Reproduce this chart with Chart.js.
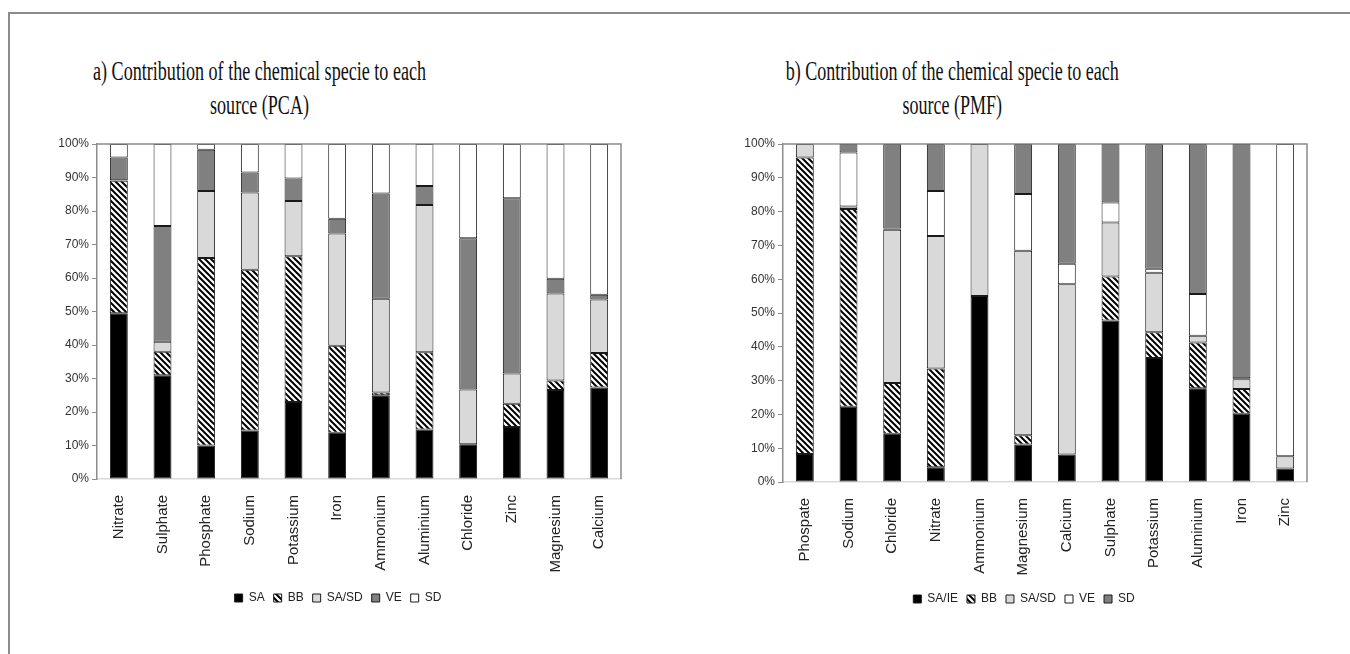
<!DOCTYPE html>
<html lang="en">
<head>
<meta charset="UTF-8">
<title>Contribution of the chemical specie to each source</title>
<script src="https://cdn.jsdelivr.net/npm/chart.js"></script>
<style>
  * { margin:0; padding:0; box-sizing:border-box; }
  body { width:1350px; height:654px; overflow:hidden; position:relative; background:#fff; font-family:'Liberation Sans', sans-serif; }
  .frame { position:absolute; left:8px; top:12px; width:1400px; height:700px; border-top:2px solid #8c8c8c; border-left:2px solid #8c8c8c; }
  .title { position:absolute; top:54px; font-family:'Liberation Serif', serif; font-size:27px; line-height:34px; text-align:center; white-space:nowrap; color:#111; transform-origin:center top; }
  canvas { position:absolute; top:0; }
</style>
</head>
<body>
<div class="frame"></div>
<div class="title" id="t1" data-cx="260">a) Contribution of the chemical specie to each<br>source (PCA)</div>
<div class="title" id="t2" data-cx="952">b) Contribution of the chemical specie to each<br>source (PMF)</div>
<canvas id="pca" width="680" height="654" style="left:0"></canvas>
<canvas id="pmf" width="670" height="654" style="left:680px"></canvas>

<script>
// ---- data (percent of each species per source) ----
const yTicks = [0, 10, 20, 30, 40, 50, 60, 70, 80, 90, 100];

const pcaCategories = ['Nitrate', 'Sulphate', 'Phosphate', 'Sodium', 'Potassium', 'Iron', 'Ammonium', 'Aluminium', 'Chloride', 'Zinc', 'Magnesium', 'Calcium'];
const pcaSeries = ['SA', 'BB', 'SA/SD', 'VE', 'SD'];
const pcaSA   = [49.5, 31.0, 10.0, 14.5, 23.0, 13.8, 25.0, 14.8, 10.4, 15.5, 26.6, 27.3];
const pcaBB   = [39.5,  7.0, 56.0, 48.0, 43.5, 26.0,  0.8, 23.0,  0.0,  7.0,  2.8, 10.3];
const pcaSASD = [ 0.2,  3.0, 20.0, 23.0, 16.5, 33.5, 28.0, 44.0, 16.3,  9.0, 26.0, 16.0];
const pcaVE   = [ 6.8, 34.5, 12.3,  6.0,  6.7,  4.4, 31.4,  5.7, 45.2, 52.3,  4.4,  1.4];
const pcaSD   = [ 4.0, 24.5,  1.7,  8.5, 10.3, 22.3, 14.8, 12.5, 28.1, 16.2, 40.2, 45.0];

const pmfCategories = ['Phospate', 'Sodium', 'Chloride', 'Nitrate', 'Ammonium', 'Magnesium', 'Calcium', 'Sulphate', 'Potassium', 'Aluminium', 'Iron', 'Zinc'];
const pmfSeries = ['SA/IE', 'BB', 'SA/SD', 'VE', 'SD'];
const pmfSAIE = [ 8.3, 22.3, 14.3,  4.4, 55.0, 11.1,  8.1, 47.8, 36.7, 27.7, 20.2,  4.0];
const pmfBB   = [87.7, 58.5, 15.0, 29.2,  0.0,  2.7,  0.0, 13.0,  7.6, 13.6,  7.3,  0.0];
const pmfSASD = [ 4.0,  0.7, 45.3, 39.2, 45.0, 54.6, 50.4, 16.0, 17.6,  2.0,  2.9,  3.6];
const pmfVE   = [ 0.0, 16.0,  0.4, 13.3,  0.0, 16.8,  6.1,  5.9,  1.2, 12.3,  0.3, 92.4];
const pmfSD   = [ 0.0,  2.5, 25.0, 13.9,  0.0, 14.8, 35.4, 17.3, 36.9, 44.4, 69.3,  0.0];

// ---- helpers ----
function hatch(ctx) {
  const tile = document.createElement('canvas');
  tile.width = 6; tile.height = 6;
  const g = tile.getContext('2d');
  g.fillStyle = '#fff'; g.fillRect(0, 0, 6, 6);
  g.strokeStyle = '#000'; g.lineWidth = 2;
  g.beginPath();
  g.moveTo(-3, -3); g.lineTo(9, 9);
  g.moveTo(-3, 3); g.lineTo(3, 9);
  g.moveTo(3, -3); g.lineTo(9, 3);
  g.stroke();
  return ctx.createPattern(tile, 'repeat');
}

// top + right edges of the plot area
const plotFrame = {
  id: 'plotFrame',
  afterDraw(chart) {
    const { ctx, chartArea: a } = chart;
    ctx.save();
    ctx.strokeStyle = '#8c8c8c'; ctx.lineWidth = 1.5;
    ctx.beginPath();
    ctx.moveTo(a.left, a.top); ctx.lineTo(a.right, a.top); ctx.lineTo(a.right, a.bottom);
    ctx.stroke();
    ctx.restore();
  }
};

const narrow = "'Liberation Sans Narrow', 'Liberation Sans', sans-serif";

function makeChart(id, categories, names, values, colors, pad, xHeight) {
  const canvas = document.getElementById(id);
  const ctx = canvas.getContext('2d');
  const pattern = hatch(ctx);
  const datasets = names.map((n, i) => ({
    label: n,
    data: values[i],
    backgroundColor: colors[i] === 'hatch' ? pattern : colors[i],
    borderColor: '#1a1a1a',
    borderWidth: 1,
    borderSkipped: false,
    barPercentage: 0.41,
    categoryPercentage: 1
  }));
  return new Chart(ctx, {
    type: 'bar',
    data: { labels: categories, datasets },
    plugins: [plotFrame],
    options: {
      responsive: false,
      animation: false,
      layout: { padding: pad },
      plugins: {
        title: { display: false },
        tooltip: { enabled: false },
        legend: {
          position: 'bottom',
          labels: { boxWidth: 8, boxHeight: 8, padding: 9, color: '#222', font: { family: narrow, size: 12 } }
        }
      },
      scales: {
        x: {
          stacked: true,
          grid: { display: false },
          border: { color: '#d9d9d9', width: 1.5 },
          ticks: { minRotation: 90, maxRotation: 90, padding: 8, color: '#222', font: { family: "'Liberation Sans', sans-serif", size: 15 } },
          afterFit: s => { s.height = xHeight; }
        },
        y: {
          stacked: true,
          min: 0, max: 100,
          afterBuildTicks: s => { s.ticks = yTicks.map(v => ({ value: v })); },
          grid: { drawOnChartArea: false, tickLength: 5, color: '#8c8c8c' },
          border: { color: '#8c8c8c', width: 1.5 },
          ticks: { padding: 3, color: '#333', font: { family: narrow, size: 12 }, callback: v => v + '%' },
          afterFit: s => { s.width = 42; }
        }
      }
    }
  });
}

makeChart('pca', pcaCategories, pcaSeries,
  [pcaSA, pcaBB, pcaSASD, pcaVE, pcaSD],
  ['#000000', 'hatch', '#d9d9d9', '#808080', '#ffffff'],
  { left: 55, right: 59, top: 144, bottom: 40 }, 104);

makeChart('pmf', pmfCategories, pmfSeries,
  [pmfSAIE, pmfBB, pmfSASD, pmfVE, pmfSD],
  ['#000000', 'hatch', '#d9d9d9', '#ffffff', '#808080'],
  { left: 61, right: 43, top: 144, bottom: 39 }, 102);

// squeeze titles to the width seen in the figure
document.querySelectorAll('.title').forEach(t => {
  const m = document.createElement('canvas').getContext('2d');
  m.font = "27px 'Liberation Serif'";
  const w = m.measureText(t.innerHTML.split('<br>')[0]).width;
  const s = 333 / w;
  t.style.left = (t.dataset.cx - w / 2) + 'px';
  t.style.width = w + 'px';
  t.style.transform = 'scaleX(' + s.toFixed(3) + ')';
});
</script>
</body>
</html>
